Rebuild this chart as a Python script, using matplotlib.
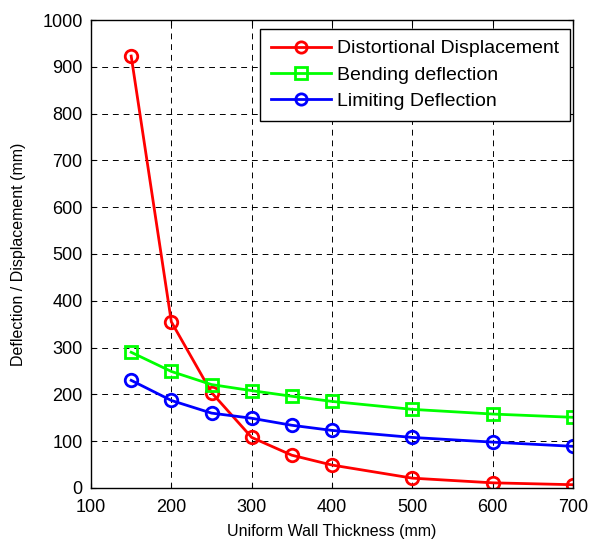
import matplotlib
matplotlib.use("Agg")
import matplotlib.pyplot as plt

plt.rcParams['font.family'] = ['Liberation Sans', 'DejaVu Sans']

thickness = [150, 200, 250, 300, 350, 400, 500, 600, 700]
distortional = [923, 355, 204, 108, 70, 49, 21, 11, 7]
bending = [290, 249, 221, 208, 196, 185, 168, 158, 151]
limiting = [230, 187, 160, 149, 134, 123, 108, 98, 89]

fig = plt.figure(figsize=(5.91, 5.41), dpi=100)
ax = fig.add_axes([0.154, 0.098, 0.8156, 0.865])

ax.plot(thickness, distortional, 'o-', color='red', lw=2, ms=9, mfc='none', mew=2,
        label='Distortional Displacement')
ax.plot(thickness, bending, 's-', color='#00ff00', lw=2, ms=9, mfc='none', mew=2,
        label='Bending deflection')
ax.plot(thickness, limiting, 'o-', color='blue', lw=2, ms=9, mfc='none', mew=2,
        label='Limiting Deflection')

ax.set_xlim(100, 700)
ax.set_ylim(0, 1000)
ax.set_xticks(range(100, 701, 100))
ax.set_yticks(range(0, 1001, 100))
ax.grid(True, color='black', linestyle=(0, (6, 5)), lw=0.7)
ax.tick_params(direction='in', labelsize=13, top=True, right=True, pad=6)
ax.tick_params(axis='x', pad=8)
for s in ax.spines.values():
    s.set_linewidth(1)

ax.set_xlabel('Uniform Wall Thickness (mm)', fontsize=11.5, labelpad=6)
ax.set_ylabel('Deflection / Displacement (mm)', fontsize=11.5, labelpad=12)

leg = ax.legend(loc='upper right', bbox_to_anchor=(0.9938, 0.9808),
                borderaxespad=0, fontsize=14, fancybox=False, framealpha=1,
                edgecolor='black', markerscale=0.9, handlelength=3.1,
                handletextpad=0.3, labelspacing=0.45, borderpad=0.55)
leg.get_frame().set_linewidth(1)

fig.savefig('out.png', dpi=100)
